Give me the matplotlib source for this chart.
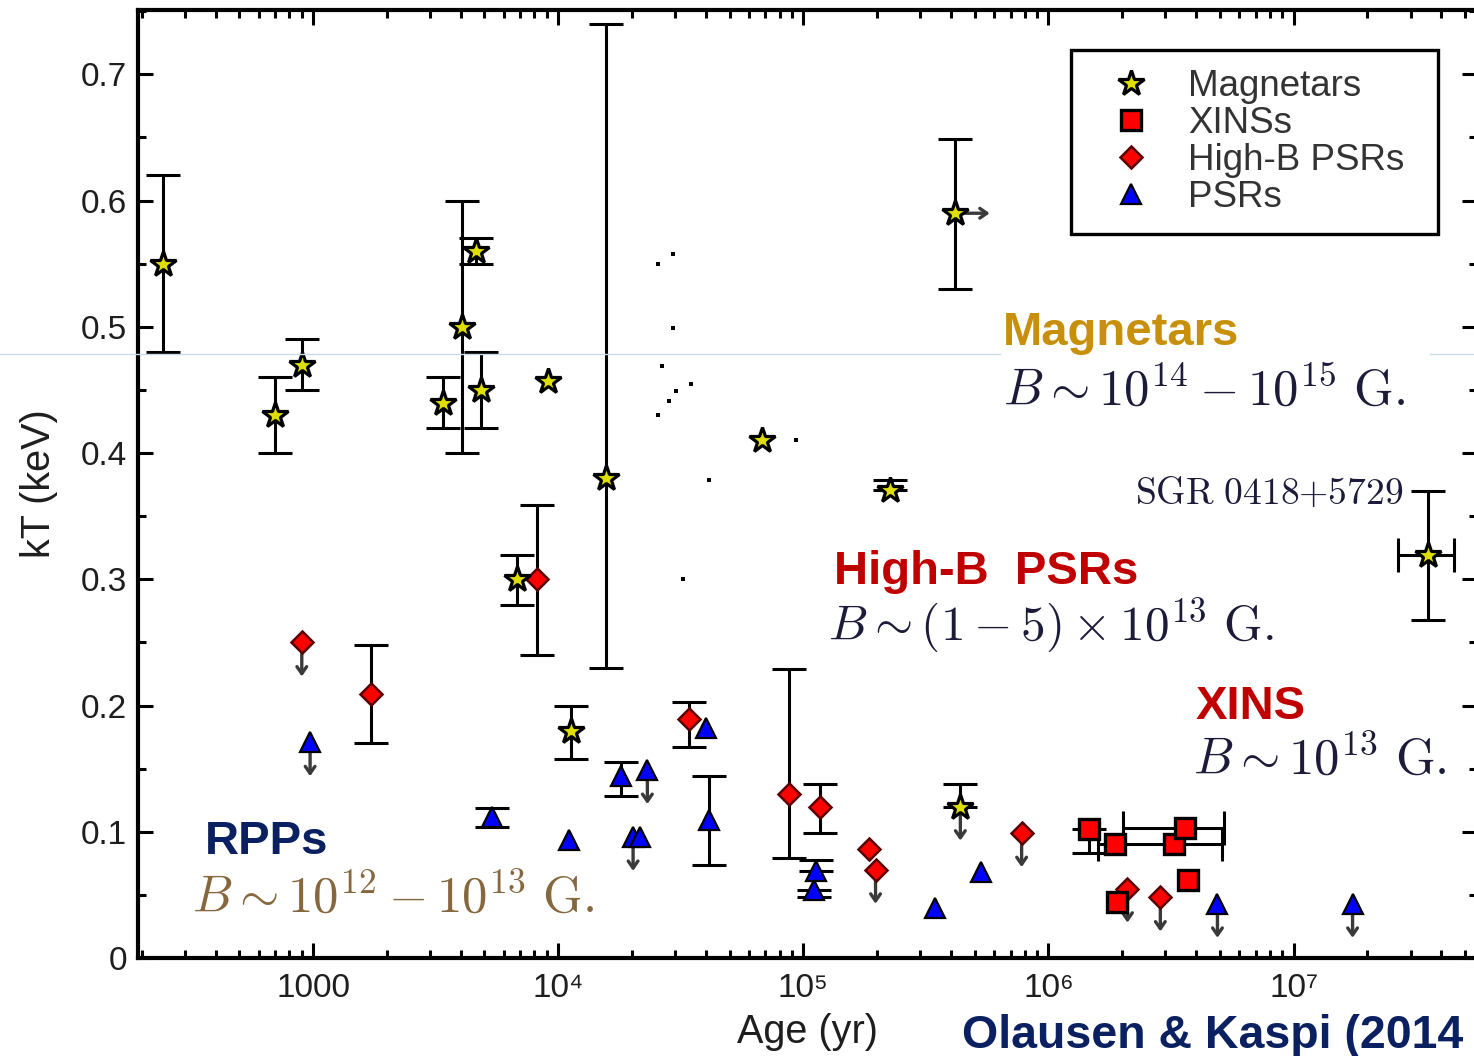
import matplotlib
matplotlib.use("Agg")
import matplotlib.pyplot as plt
from matplotlib.lines import Line2D
from matplotlib.ticker import FixedLocator, FixedFormatter, LogLocator, NullFormatter, MultipleLocator

plt.rcParams["mathtext.fontset"] = "cm"
plt.rcParams["font.family"] = ["Liberation Sans", "DejaVu Sans"]

# ---- data (age in yr, kT in keV) ----
mag_age = [244, 700, 902, 3390, 4060, 4620, 4850, 9100, 6810, 15700, 11300, 68000, 226000, 417000, 437000, 3.55e7]
mag_kt = [0.55, 0.43, 0.47, 0.44, 0.50, 0.56, 0.45, 0.457, 0.30, 0.38, 0.18, 0.41, 0.371, 0.59, 0.12, 0.319]
mag_lo = [0.48, 0.40, 0.45, 0.42, 0.40, 0.55, 0.42, 0.457, 0.28, 0.23, 0.158, 0.41, 0.371, 0.53, 0.12, 0.268]
mag_hi = [0.62, 0.46, 0.49, 0.46, 0.60, 0.57, 0.48, 0.457, 0.319, 0.74, 0.20, 0.41, 0.379, 0.649, 0.138, 0.37]
mag_age_lo = [None] * 15 + [2.67e7]
mag_age_hi = [None] * 15 + [4.5e7]
mag_ul = [False] * 14 + [True, False]
mag_age_lowlim = [False] * 13 + [True, False, False]

xins_age = [1.46e6, 1.87e6, 3.24e6, 3.62e6, 3.72e6, 1.91e6]
xins_kt = [0.102, 0.090, 0.090, 0.103, 0.062, 0.044]
xins_lo = [0.083, 0.090, 0.090, 0.103, 0.062, 0.044]
xins_hi = [0.102, 0.090, 0.090, 0.103, 0.062, 0.044]
xins_age_lo = [None, None, 1.59e6, 2.02e6, None, None]
xins_age_hi = [None, None, 5.08e6, 5.22e6, None, None]

hb_age = [899, 1720, 8200, 34000, 87700, 117000, 186000, 197000, 777000, 2.1e6, 2.86e6]
hb_kt = [0.25, 0.209, 0.30, 0.189, 0.13, 0.12, 0.086, 0.070, 0.099, 0.055, 0.048]
hb_lo = [0.25, 0.17, 0.24, 0.167, 0.079, 0.099, 0.086, 0.070, 0.099, 0.055, 0.048]
hb_hi = [0.25, 0.248, 0.359, 0.203, 0.229, 0.138, 0.086, 0.070, 0.099, 0.055, 0.048]
hb_ul = [True, False, False, False, False, False, False, True, True, True, True]

psr_age = [972, 5380, 11100, 18100, 23100, 20200, 21600, 40200, 41300, 113000, 111000, 343000, 533000, 4.89e6, 1.74e7]
psr_kt = [0.171, 0.112, 0.0935, 0.144, 0.149, 0.096, 0.096, 0.182, 0.109, 0.069, 0.054, 0.040, 0.068, 0.043, 0.043]
psr_lo = [0.171, 0.104, 0.0935, 0.128, 0.149, 0.096, 0.096, 0.182, 0.074, 0.069, 0.048, 0.040, 0.068, 0.043, 0.043]
psr_hi = [0.171, 0.119, 0.0935, 0.155, 0.149, 0.096, 0.096, 0.182, 0.144, 0.078, 0.054, 0.040, 0.068, 0.043, 0.043]
psr_ul = [True, False, False, False, True, True, False, False, False, False, False, False, False, True, True]

dot_age = [29300, 25600, 29300, 26400, 34700, 30300, 28400, 25600, 41300, 93500, 32400]
dot_kt = [0.558, 0.550, 0.499, 0.469, 0.455, 0.4495, 0.441, 0.430, 0.3785, 0.410, 0.30]

x_major = [1e3, 1e4, 1e5, 1e6, 1e7]
x_major_labels = ["1000", "10\u2074", "10\u2075", "10\u2076", "10\u2077"]
y_major = [0, 0.1, 0.2, 0.3, 0.4, 0.5, 0.6, 0.7]
y_major_labels = ["0", "0.1", "0.2", "0.3", "0.4", "0.5", "0.6", "0.7"]

W, H = 1474, 1056
fig = plt.figure(figsize=(W / 100, H / 100), dpi=100)
ax = fig.add_axes([138 / W, 1 - 958 / H, (1477 - 138) / W, (958 - 10) / H])
ax.set_xscale("log")
ax.set_xlim(193, 5.6e7)
ax.set_ylim(0, 0.751)

err_kw = dict(fmt="none", ecolor="black", elinewidth=2.2, capsize=12, capthick=2.2, zorder=3)
arrow_col = "#3a3a3a"
drop = 0.027


def draw_errors(age, kt, lo, hi, age_lo=None, age_hi=None):
    for i, (a, k, l, h) in enumerate(zip(age, kt, lo, hi)):
        if h > l:
            ax.errorbar([a], [k], yerr=[[k - l], [h - k]], **err_kw)
        if age_lo is not None and age_lo[i] is not None:
            ax.errorbar([a], [k], xerr=[[a - age_lo[i]], [age_hi[i] - a]], **err_kw)


def draw_upper_limits(age, kt, flags):
    for a, k, f in zip(age, kt, flags):
        if f:
            ax.annotate("", xy=(a, k - drop), xytext=(a, k),
                        arrowprops=dict(arrowstyle="->,head_length=0.5,head_width=0.35",
                                        color=arrow_col, lw=2.4, shrinkA=0, shrinkB=0),
                        zorder=2)


draw_errors(mag_age, mag_kt, mag_lo, mag_hi, mag_age_lo, mag_age_hi)
draw_errors(xins_age, xins_kt, xins_lo, xins_hi, xins_age_lo, xins_age_hi)
draw_errors(hb_age, hb_kt, hb_lo, hb_hi)
draw_errors(psr_age, psr_kt, psr_lo, psr_hi)
draw_upper_limits(mag_age, mag_kt, mag_ul)
draw_upper_limits(hb_age, hb_kt, hb_ul)
draw_upper_limits(psr_age, psr_kt, psr_ul)
for a, k, f in zip(mag_age, mag_kt, mag_age_lowlim):
    if f:
        ax.annotate("", xy=(a * 1.38, k), xytext=(a, k),
                    arrowprops=dict(arrowstyle="->,head_length=0.5,head_width=0.35",
                                    color=arrow_col, lw=2.4, shrinkA=0, shrinkB=0),
                    zorder=2)

ax.plot(dot_age, dot_kt, ls="none", marker="s", ms=2.5, color="black", mew=0, zorder=3)

ax.plot(psr_age, psr_kt, ls="none", marker="^", ms=14, mfc="#0000ff", mec="black", mew=1.6, zorder=5, label="PSRs")
ax.plot(hb_age, hb_kt, ls="none", marker="D", ms=11, mfc="#ff0000", mec="#5a0000", mew=1.8, zorder=5, label="High-B PSRs")
ax.plot(xins_age, xins_kt, ls="none", marker="s", ms=14, mfc="#ff0000", mec="black", mew=2.4, zorder=5, label="XINSs")
ax.plot(mag_age, mag_kt, ls="none", marker="*", ms=19, mfc="#dede00", mec="black", mew=2.3, zorder=6, label="Magnetars")

# ticks
ax.xaxis.set_major_locator(FixedLocator(x_major))
ax.xaxis.set_major_formatter(FixedFormatter(x_major_labels))
ax.xaxis.set_minor_locator(LogLocator(base=10, subs=range(2, 10), numticks=20))
ax.xaxis.set_minor_formatter(NullFormatter())
ax.yaxis.set_major_locator(FixedLocator(y_major))
ax.yaxis.set_major_formatter(FixedFormatter(y_major_labels))
ax.yaxis.set_minor_locator(MultipleLocator(0.05))
ax.tick_params(which="both", direction="in", top=True, right=True, width=2.2, colors="black")
ax.tick_params(which="major", length=11)
ax.tick_params(which="minor", length=6)
ax.tick_params(axis="x", which="major", pad=11, labelsize=24, labelcolor="#1e1e1e")
ax.tick_params(axis="y", which="major", pad=8, labelsize=24, labelcolor="#1e1e1e")
for sp in ax.spines.values():
    sp.set_linewidth(3)

ax.set_xlabel("Age (yr)", fontsize=28.5, color="#1e1e1e", labelpad=6)
ax.set_ylabel("kT (keV)", fontsize=28.5, color="#1e1e1e", labelpad=16)

# legend
handles, labels = ax.get_legend_handles_labels()
order = [3, 2, 1, 0]
leg = ax.legend([handles[i] for i in order], [labels[i] for i in order],
                loc="upper left", mode="expand",
                bbox_to_anchor=(1071 / W, 1 - 236 / H, (1438 - 1071) / W, (236 - 50) / H),
                bbox_transform=fig.transFigure,
                fontsize=26.5, frameon=True, fancybox=False, framealpha=1, edgecolor="black",
                labelspacing=0.05, handlelength=2.2, handletextpad=0.45, borderpad=0.52, borderaxespad=0)
leg.get_frame().set_linewidth(2.4)
for t in leg.get_texts():
    t.set_color("#333333")

# stray light line across the slide, hidden behind the magnetar label box
line_y = 1 - 354 / H
for x0, x1 in [(0, 1000 / W), (1430 / W, 1)]:
    fig.add_artist(Line2D([x0, x1], [line_y, line_y], transform=fig.transFigure, color="#c9dde6", lw=1, zorder=10))

# annotations
navy = "#0a2060"
red = "#c00000"
gold = "#c8900a"
formula = "#1c1c3a"
fs_math = 36.5
ax.text(1003 / W, 1 - 333 / H, "Magnetars", transform=fig.transFigure, fontsize=34, fontweight="bold",
        color=gold, ha="left", va="center", zorder=7)
ax.text(1003 / W, 1 - 392 / H, r"$B \sim 10^{14} - 10^{15}\ \mathrm{G.}$", transform=fig.transFigure,
        fontsize=fs_math, color=formula, ha="left", va="center", zorder=7)
ax.text(1135 / W, 1 - 494 / H, r"$\mathrm{SGR\ 0418{+}5729}$", transform=fig.transFigure,
        fontsize=27, color=formula, ha="left", va="center", zorder=7)
ax.text(834 / W, 1 - 572 / H, "High-B  PSRs", transform=fig.transFigure, fontsize=34, fontweight="bold",
        color=red, ha="left", va="center", zorder=7)
ax.text(828 / W, 1 - 626 / H, r"$B \sim (1 - 5) \times 10^{13}\ \mathrm{G.}$", transform=fig.transFigure,
        fontsize=35.5, color=formula, ha="left", va="center", zorder=7)
ax.text(1196 / W, 1 - 707 / H, "XINS", transform=fig.transFigure, fontsize=34, fontweight="bold",
        color=red, ha="left", va="center", zorder=7)
ax.text(1193 / W, 1 - 760 / H, r"$B \sim 10^{13}\ \mathrm{G.}$", transform=fig.transFigure,
        fontsize=fs_math, color=formula, ha="left", va="center", zorder=7)
ax.text(205 / W, 1 - 842 / H, "RPPs", transform=fig.transFigure, fontsize=34, fontweight="bold",
        color=navy, ha="left", va="center", zorder=7)
ax.text(192 / W, 1 - 898 / H, r"$B \sim 10^{12} - 10^{13}\ \mathrm{G.}$", transform=fig.transFigure,
        fontsize=fs_math, color="#86673e", ha="left", va="center", zorder=7)
# the slide shows this credit clipped at "(2014"
fig.text(962 / W, 1 - 1036 / H, "Olausen & Kaspi (2014", fontsize=33.5, fontweight="bold",
         color=navy, ha="left", va="center")

fig.savefig("out.png", dpi=100)
